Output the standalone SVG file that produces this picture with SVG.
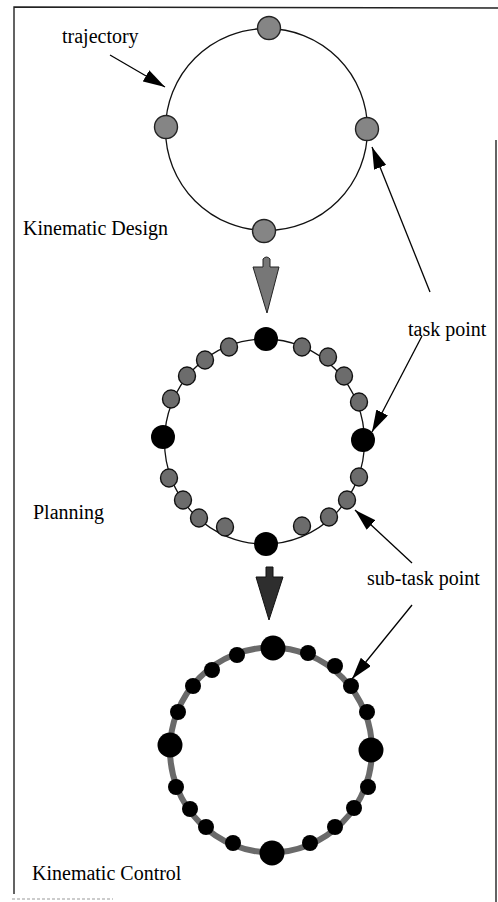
<svg xmlns="http://www.w3.org/2000/svg" width="498" height="902" viewBox="0 0 498 902">
<defs>
<style>
text{font-family:"Liberation Serif","Times New Roman",serif;font-size:20px;fill:#000}
.ring{fill:none;stroke:#111;stroke-width:1.3}
.band{fill:none;stroke:#6a6a6a;stroke-width:6}
.gdot{fill:#858585;stroke:#222;stroke-width:1.4}
.sdot{fill:#6c6c6c;stroke:#111;stroke-width:1.4}
.bdot{fill:#000}
.lead{fill:none;stroke:#000;stroke-width:1.3;marker-end:url(#ah)}
.frame{fill:none;stroke:#222;stroke-width:1.4}
</style>
<marker id="ah" viewBox="0 0 22 13" refX="22" refY="6.5" markerWidth="22" markerHeight="13" markerUnits="userSpaceOnUse" orient="auto">
<path d="M0,0 L22,6.5 L0,13 z" fill="#000"/>
</marker>
</defs>
<rect width="498" height="902" fill="#fff"/>
<g id="frame">
<path class="frame" d="M14,894 V7 L498,8"/>
<path class="frame" d="M496,140 V902"/>
<path d="M12,899 H113" stroke="#999" stroke-width="1" stroke-dasharray="3 2"/>
</g>
<g id="stage-design">
<circle class="ring" cx="266.5" cy="129.5" r="101"/>
<circle class="gdot" cx="269" cy="28" r="11.5"/>
<circle class="gdot" cx="166" cy="127" r="11.5"/>
<circle class="gdot" cx="367" cy="129" r="11.5"/>
<circle class="gdot" cx="264" cy="231" r="11.5"/>
</g>
<g id="stage-planning">
<ellipse class="ring" cx="264.5" cy="441.5" rx="100" ry="102.5"/>
<ellipse class="sdot" cx="229" cy="347" rx="8.5" ry="9"/>
<ellipse class="sdot" cx="205" cy="360" rx="8.5" ry="9"/>
<ellipse class="sdot" cx="187" cy="376" rx="8.5" ry="9"/>
<ellipse class="sdot" cx="171" cy="399" rx="8.5" ry="9"/>
<ellipse class="sdot" cx="302" cy="347" rx="8.5" ry="9"/>
<ellipse class="sdot" cx="328" cy="357" rx="8.5" ry="9"/>
<ellipse class="sdot" cx="344" cy="376" rx="8.5" ry="9"/>
<ellipse class="sdot" cx="359" cy="402" rx="8.5" ry="9"/>
<ellipse class="sdot" cx="359" cy="477" rx="8.5" ry="9"/>
<ellipse class="sdot" cx="347" cy="500" rx="8.5" ry="9"/>
<ellipse class="sdot" cx="329" cy="517" rx="8.5" ry="9"/>
<ellipse class="sdot" cx="302" cy="526" rx="8.5" ry="9"/>
<ellipse class="sdot" cx="169" cy="478" rx="8.5" ry="9"/>
<ellipse class="sdot" cx="183" cy="500" rx="8.5" ry="9"/>
<ellipse class="sdot" cx="199" cy="518" rx="8.5" ry="9"/>
<ellipse class="sdot" cx="225" cy="527" rx="8.5" ry="9"/>
<circle class="bdot" cx="266" cy="339" r="12"/>
<circle class="bdot" cx="163" cy="437" r="12"/>
<circle class="bdot" cx="363" cy="440" r="12"/>
<circle class="bdot" cx="266" cy="544" r="12"/>
</g>
<g id="stage-control">
<ellipse class="band" cx="271" cy="750" rx="101" ry="102.5"/>
<circle class="bdot" cx="237" cy="655" r="8"/>
<circle class="bdot" cx="212" cy="670" r="8"/>
<circle class="bdot" cx="193" cy="686" r="8"/>
<circle class="bdot" cx="178" cy="712" r="8"/>
<circle class="bdot" cx="308" cy="653" r="8"/>
<circle class="bdot" cx="335" cy="666" r="8"/>
<circle class="bdot" cx="351" cy="686" r="8"/>
<circle class="bdot" cx="367" cy="712" r="8"/>
<circle class="bdot" cx="368" cy="787" r="8"/>
<circle class="bdot" cx="354" cy="808" r="8"/>
<circle class="bdot" cx="335" cy="827" r="8"/>
<circle class="bdot" cx="310" cy="843" r="8"/>
<circle class="bdot" cx="176" cy="787" r="8"/>
<circle class="bdot" cx="190" cy="809" r="8"/>
<circle class="bdot" cx="206" cy="827" r="8"/>
<circle class="bdot" cx="233" cy="843" r="8"/>
<circle class="bdot" cx="273" cy="648" r="12.5"/>
<circle class="bdot" cx="170" cy="745" r="12.5"/>
<circle class="bdot" cx="371" cy="750" r="12.5"/>
<circle class="bdot" cx="272" cy="853" r="12.5"/>
</g>
<g id="labels">
<text x="62" y="43">trajectory</text>
<text x="23" y="235">Kinematic Design</text>
<text x="408" y="336">task point</text>
<text x="33" y="519">Planning</text>
<text x="367" y="585">sub-task point</text>
<text x="32" y="880">Kinematic Control</text>
</g>
<g id="connectors">
<line class="lead" x1="110" y1="55" x2="165" y2="87"/>
<line class="lead" x1="430" y1="292" x2="372" y2="147"/>
<line class="lead" x1="422" y1="336" x2="372" y2="432"/>
<line class="lead" x1="412" y1="563" x2="355" y2="510"/>
<line class="lead" x1="412" y1="605" x2="352" y2="679"/>
<path d="M263,267 V259 Q266.5,255 270,259 V267 H279 L267,313 L253,267 Z" fill="#777" stroke="#222" stroke-width="1"/>
<path d="M266,577 V567 H273 V577 H283 L269,620 L256,577 Z" fill="#2e2e2e" stroke="#111" stroke-width="1"/>
</g>
</svg>
